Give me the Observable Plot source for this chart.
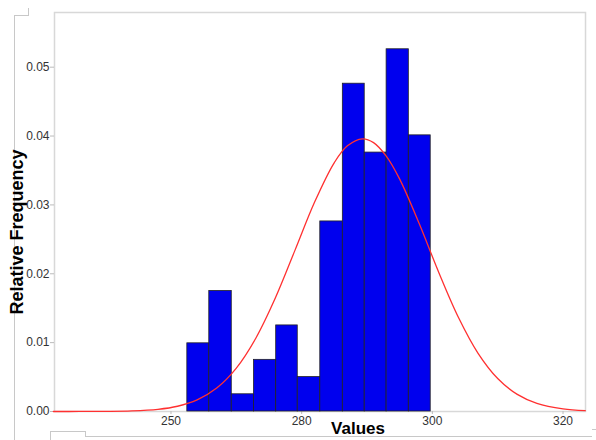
<!DOCTYPE html>
<html>
<head>
<meta charset="utf-8">
<script src="https://cdn.jsdelivr.net/npm/d3@7"></script>
<script src="https://cdn.jsdelivr.net/npm/@observablehq/plot@0.6"></script>
<style>
  html, body { margin: 0; padding: 0; background: #fff; }
  #wrap { position: relative; width: 596px; height: 440px; overflow: hidden; font-family: "Liberation Sans", Arial, sans-serif; }
  #wrap svg { position: absolute; left: 0; top: 0; }
  .ln { position: absolute; background: #c8c8c8; }
  .title { position: absolute; font-weight: bold; font-size: 17px; color: #000; white-space: nowrap; }
</style>
</head>
<body>
<div id="wrap"></div>
<script>
// Histogram bins (edges) and relative frequencies
const binStart = [262.5, 265.86, 269.3, 272.7, 276.1, 279.4, 282.85, 286.3, 289.65, 293.0, 296.4];
const binEnd   = [265.86, 269.3, 272.7, 276.1, 279.4, 282.85, 286.3, 289.65, 293.0, 296.4, 299.75];
const relFreq  = [0.0099, 0.0175, 0.0025, 0.0075, 0.0125, 0.0050, 0.0276, 0.0476, 0.0376, 0.0526, 0.0401];

// Fitted normal curve
const curveX = [242, 246, 250, 254, 258, 261, 264, 267, 270, 273, 276, 279, 282, 285, 287, 289.3, 291, 293, 295, 298, 301, 304, 307, 310, 313, 316, 320, 323.4];
const curveY = [0.0000006, 0.0000038, 0.0000195, 0.000085, 0.000316, 0.000763, 0.001687, 0.00341, 0.00631, 0.01068, 0.01655, 0.02347, 0.03045, 0.03615, 0.03858, 0.0396, 0.03904, 0.03701, 0.03374, 0.02726, 0.02016, 0.01365, 0.00845, 0.00479, 0.00248, 0.00118, 0.000379, 0.000128];

// Axis ticks (labels as printed in the original)
const xTickValues = [260, 280, 300, 320];
const xTickLabels = ["250", "280", "300", "320"];
const yTickValues = [0, 0.01, 0.02, 0.03, 0.04, 0.05];
const yTickLabels = ["0.00", "0.01", "0.02", "0.03", "0.04", "0.05"];

const xTitle = "Values";
const yTitle = "Relative Frequency";

const bins = binStart.map((s, i) => ({x1: s, x2: binEnd[i], y: relFreq[i]}));
const curve = curveX.map((x, i) => ({x, y: curveY[i]}));
const xLab = new Map(xTickValues.map((v, i) => [v, xTickLabels[i]]));
const yLab = new Map(yTickValues.map((v, i) => [v, yTickLabels[i]]));

const chart = Plot.plot({
  width: 596,
  height: 440,
  marginLeft: 54,
  marginRight: 11,
  marginTop: 12,
  marginBottom: 29,
  style: {fontFamily: "'Liberation Sans', Arial, sans-serif", fontSize: "12px", background: "transparent"},
  x: {domain: [242.17, 323.44], label: null},
  y: {domain: [0, 0.05794], label: null},
  marks: [
    Plot.frame({stroke: "#d8d8d8", strokeWidth: 1.5}),
    Plot.axisX({ticks: xTickValues, tickFormat: d => xLab.get(d), tickSize: 3, tickPadding: 2, stroke: "#bbb", fill: "#333", label: null}),
    Plot.axisY({ticks: yTickValues, tickFormat: d => yLab.get(d), tickSize: 4, tickPadding: 1, stroke: "#bbb", fill: "#333", label: null}),
    Plot.rectY(bins, {x1: "x1", x2: "x2", y: "y", fill: "#0000ee", stroke: "#222", strokeWidth: 0.8, inset: 0}),
    Plot.line(curve, {x: "x", y: "y", stroke: "#ff3030", strokeWidth: 1.3, curve: "catmull-rom"})
  ]
});

const wrap = document.getElementById("wrap");
wrap.appendChild(chart);

function line(l, t, w, h) {
  const d = document.createElement("div");
  d.className = "ln";
  d.style.left = l + "px"; d.style.top = t + "px";
  d.style.width = w + "px"; d.style.height = h + "px";
  wrap.appendChild(d);
}
line(14, 15, 1, 425);
line(14, 15, 14, 1);
line(28, 8, 1, 8);
line(50, 431, 35, 1);
line(50, 431, 1, 9);
line(85, 431, 1, 6);
line(85, 436, 507, 1);
line(592, 429, 4, 1);

const xt = document.createElement("div");
xt.className = "title";
xt.textContent = xTitle;
xt.style.left = "358px"; xt.style.top = "429px";
xt.style.transform = "translate(-50%, -50%)";
wrap.appendChild(xt);

const yt = document.createElement("div");
yt.className = "title";
yt.textContent = yTitle;
yt.style.fontSize = "18px";
yt.style.left = "17px"; yt.style.top = "232px";
yt.style.transform = "translate(-50%, -50%) rotate(-90deg)";
wrap.appendChild(yt);
</script>
</body>
</html>
